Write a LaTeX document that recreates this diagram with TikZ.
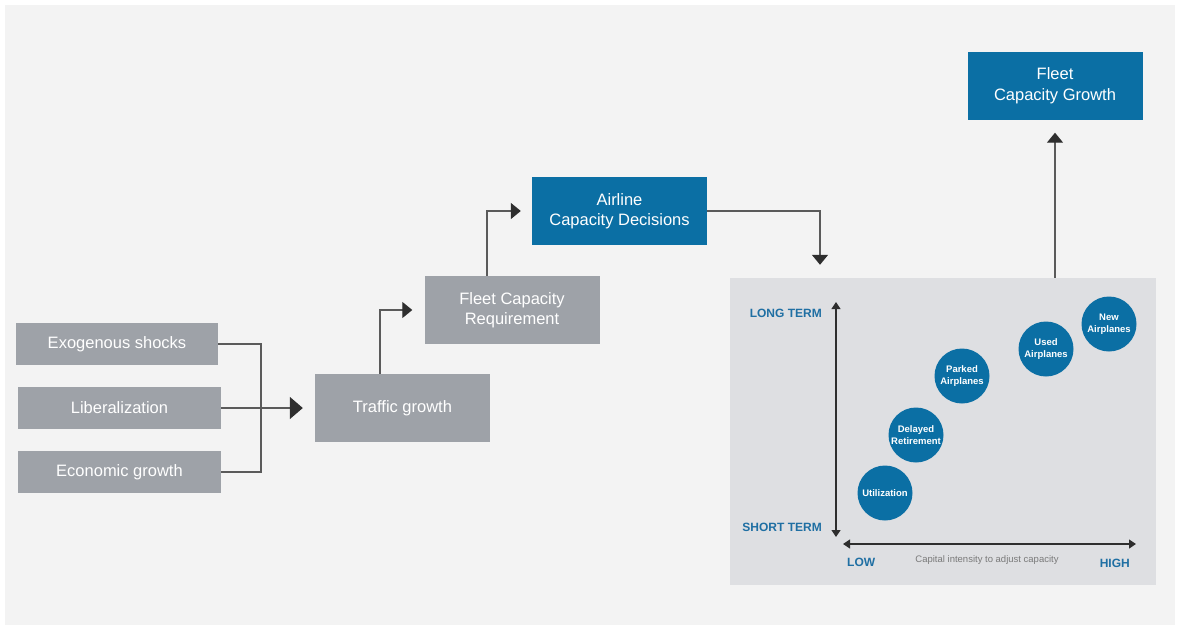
\documentclass[tikz,border=0pt]{standalone}
\usepackage{fontspec}
\setmainfont{Liberation Sans}
\usetikzlibrary{arrows.meta}
\definecolor{bg}{HTML}{F3F3F3}
\definecolor{graybox}{HTML}{9EA2A8}
\definecolor{bluebox}{HTML}{0B6FA4}
\definecolor{panelc}{HTML}{DEDFE2}
\definecolor{linec}{HTML}{5A5A5A}
\definecolor{tipc}{HTML}{2E2E2E}
\definecolor{lbl}{HTML}{1F6FA3}
\definecolor{capc}{HTML}{7A7A7A}
\tikzset{
  gbox/.style={fill=graybox, text=white, minimum width=#1, minimum height=42pt, inner sep=0pt, font=\fontsize{16.5}{20.5}\selectfont, align=center},
  tbox/.style={fill=graybox, text=white, minimum width=175pt, minimum height=68pt, inner sep=0pt, font=\fontsize{16.5}{20.5}\selectfont, align=center},
  bbox/.style={fill=bluebox, text=white, minimum width=175pt, minimum height=68pt, inner sep=0pt, font=\fontsize{16.5}{20.5}\selectfont, align=center},
  conn/.style={draw=linec, line width=1.3pt},
  arr/.style={conn, -{Triangle[length=10pt,width=16pt,color=tipc]}},
  bigarr/.style={conn, -{Triangle[length=13pt,width=22pt,color=tipc]}},
  axis/.style={draw=tipc, line width=1.2pt, {Triangle[length=7pt,width=9pt]}-{Triangle[length=7pt,width=9pt]}},
  dot/.style={circle, fill=bluebox, text=white, minimum size=55pt, inner sep=0pt, align=center, font=\bfseries\fontsize{9.5}{11.5}\selectfont},
  axlbl/.style={text=lbl, font=\bfseries\fontsize{12}{14}\selectfont, inner sep=0pt},
}
\begin{document}
\begin{tikzpicture}[x=1pt,y=-1pt]
\useasboundingbox (0,0) rectangle (1178,629);
\fill[white] (0,0) rectangle (1178,629);
\fill[bg] (5,5) rectangle (1175,625);

% panel
\node[fill=panelc, minimum width=426pt, minimum height=307pt, inner sep=0pt] (panel) at (943,431.5) {};

% boxes
\node[gbox=202pt] (exo) at (117,344) {Exogenous shocks};
\node[gbox=203pt] (lib) at (119.5,408) {Liberalization};
\node[gbox=203pt] (eco) at (119.5,472) {Economic growth};
\node[tbox] (traffic) at (402.5,408) {Traffic growth};
\node[tbox] (fcr) at (512,310) {Fleet Capacity\\Requirement};
\node[bbox] (acd) at (619.5,211) {Airline\\Capacity Decisions};
\node[bbox] (fcg) at (1055,85.5) {Fleet\\Capacity Growth};

% connectors
\coordinate (junc) at (261,408);
\draw[conn] (exo.east) -| (junc);
\draw[conn] (eco.east) -| (junc);
\draw[bigarr, shorten >=12pt] (lib.east) -- (lib.east -| traffic.west);
\draw[arr, shorten >=12pt] ([xshift=-22.5pt]traffic.north) |- (fcr.west);
\draw[arr, shorten >=11pt] ([xshift=-25pt]fcr.north) |- (acd.west);
\draw[arr, shorten >=13pt] (acd.east) -| ([xshift=-123pt]panel.north);
\draw[arr, shorten >=13pt] ([xshift=112pt]panel.north) -- (fcg.south);

% axes
\coordinate (vtop) at (836,302);
\coordinate (vbot) at (836,537);
\coordinate (hleft) at (843,544);
\coordinate (hright) at (1136,544);
\draw[axis] (vbot) -- (vtop);
\draw[axis] (hleft) -- (hright);

\node[axlbl, anchor=east] (lt) at (822,313) {LONG TERM};
\node[axlbl, anchor=east] (st) at (822,527) {SHORT TERM};
\node[axlbl, anchor=west] (low) at (847,562) {LOW};
\node[axlbl, anchor=east] (high) at (1130,563) {HIGH};
\node[text=capc, font=\fontsize{9.5}{11}\selectfont, inner sep=0pt] (cap) at (987,560) {Capital intensity to adjust capacity};

% circles
\node[dot] (util) at (885,493) {Utilization};
\node[dot] (delay) at (916,435) {Delayed\\Retirement};
\node[dot] (park) at (962,376) {Parked\\Airplanes};
\node[dot] (used) at (1046,349) {Used\\Airplanes};
\node[dot] (new) at (1109,324) {New\\Airplanes};
\end{tikzpicture}
\end{document}
